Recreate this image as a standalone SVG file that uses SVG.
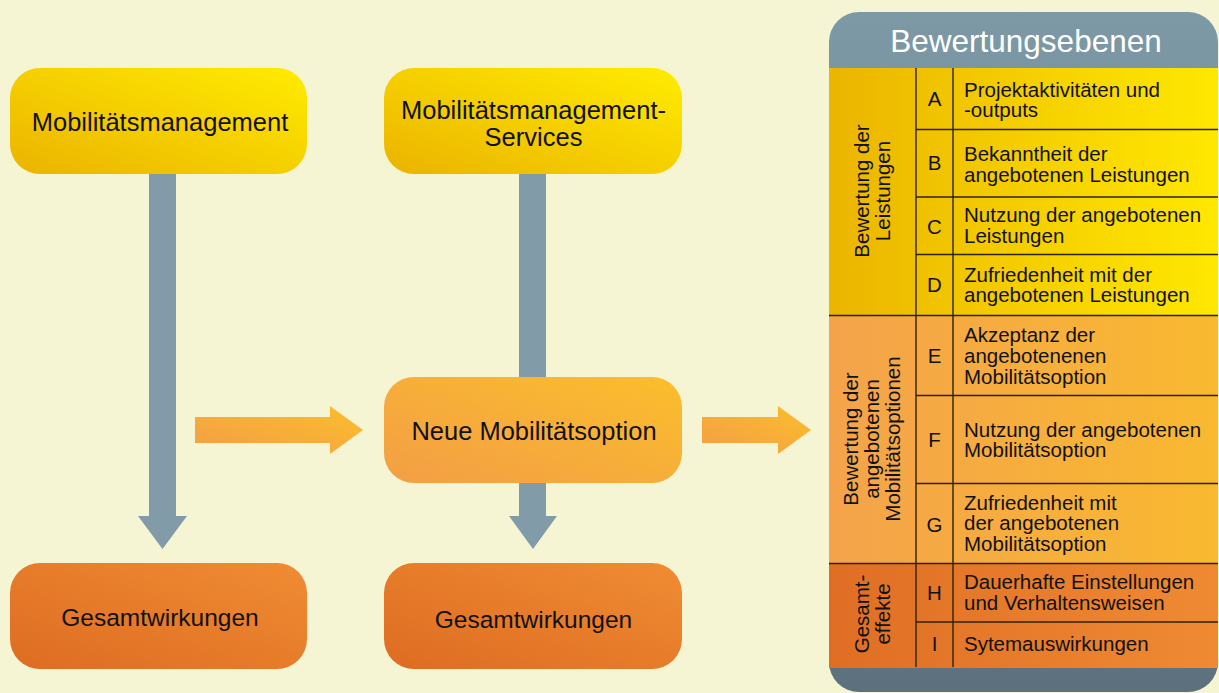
<svg xmlns="http://www.w3.org/2000/svg" width="1219" height="693" viewBox="0 0 1219 693">
<defs>
<linearGradient id="gYellow" x1="0" y1="1" x2="1" y2="0">
<stop offset="0" stop-color="#EBB300"/>
<stop offset="1" stop-color="#FFEC00"/>
</linearGradient>
<linearGradient id="gLightOrange" x1="0" y1="1" x2="1" y2="0">
<stop offset="0" stop-color="#F39E46"/>
<stop offset="1" stop-color="#FBBE2C"/>
</linearGradient>
<linearGradient id="gDarkOrange" x1="0" y1="1" x2="1" y2="0">
<stop offset="0" stop-color="#DD6C22"/>
<stop offset="1" stop-color="#F08C33"/>
</linearGradient>
<linearGradient id="gArrowOrange" x1="0" y1="1" x2="1" y2="0">
<stop offset="0" stop-color="#F39E46"/>
<stop offset="1" stop-color="#FBBE2C"/>
</linearGradient>
<linearGradient id="gGray" x1="0" y1="0" x2="0" y2="1">
<stop offset="0" stop-color="#7E99A6"/>
<stop offset="1" stop-color="#5C717D"/>
</linearGradient>
<linearGradient id="gTYellow" x1="0" y1="0" x2="1" y2="0">
<stop offset="0" stop-color="#EBB500"/>
<stop offset="1" stop-color="#FFE800"/>
</linearGradient>
<linearGradient id="gTOrange" x1="0" y1="0" x2="1" y2="0">
<stop offset="0" stop-color="#F4A34B"/>
<stop offset="1" stop-color="#F9B930"/>
</linearGradient>
<linearGradient id="gTDark" x1="0" y1="0" x2="1" y2="0">
<stop offset="0" stop-color="#DF6E24"/>
<stop offset="1" stop-color="#EF8A33"/>
</linearGradient>
</defs>
<style>
.node-text{font-family:"Liberation Sans",Arial,sans-serif;font-size:25.5px;fill:#111;text-anchor:middle}
.node-text-s{font-family:"Liberation Sans",Arial,sans-serif;font-size:24.5px;fill:#111;text-anchor:middle}
.tbl{font-family:"Liberation Sans",Arial,sans-serif;font-size:20.5px;fill:#111}
.ltr{text-anchor:middle}
.vlab{font-family:"Liberation Sans",Arial,sans-serif;font-size:20.5px;fill:#111;text-anchor:middle}
.grid{stroke:#2E2206;stroke-width:1.4;fill:none}
.gray-arrow{fill:#819CA8}
.orange-arrow{fill:url(#gArrowOrange)}
</style>
<rect x="0" y="0" width="1219" height="693" fill="#F5F5D3"/>

<g id="connectors">
<polygon class="gray-arrow" points="149,170 176,170 176,516 187,516 162.5,549 138,516 149,516"/>
<polygon class="gray-arrow" points="519,170 546,170 546,516 557,516 533,549 509,516 519,516"/>
<polygon class="orange-arrow" points="195,417 330,417 330,406 363,430 330,454 330,443 195,443"/>
<polygon class="orange-arrow" points="702,417 778,417 778,406 811,430 778,454 778,443 702,443"/>
</g>

<g id="node-mm">
<rect x="10" y="68" width="297" height="106" rx="30" fill="url(#gYellow)"/>
<text class="node-text" x="160" y="131">Mobilitätsmanagement</text>
</g>
<g id="node-mms">
<rect x="384" y="68" width="298" height="106" rx="30" fill="url(#gYellow)"/>
<text class="node-text" x="533.5" y="119">Mobilitätsmanagement-</text>
<text class="node-text" x="533.5" y="146">Services</text>
</g>
<g id="node-neue">
<rect x="384" y="377" width="298" height="106" rx="30" fill="url(#gLightOrange)"/>
<text class="node-text" x="534" y="440">Neue Mobilitätsoption</text>
</g>
<g id="node-gesamt1">
<rect x="10" y="563" width="297" height="106" rx="30" fill="url(#gDarkOrange)"/>
<text class="node-text-s" x="160" y="626">Gesamtwirkungen</text>
</g>
<g id="node-gesamt2">
<rect x="384" y="563" width="298" height="106" rx="30" fill="url(#gDarkOrange)"/>
<text class="node-text-s" x="533.5" y="628">Gesamtwirkungen</text>
</g>

<g id="table-bewertungsebenen">
<rect x="829" y="12" width="389" height="680" rx="30" fill="url(#gGray)"/>
<text x="1026" y="52" font-family="'Liberation Sans',Arial,sans-serif" font-size="31.5" fill="#FFFFFF" text-anchor="middle">Bewertungsebenen</text>
<rect x="829" y="68" width="389" height="247" fill="url(#gTYellow)"/>
<rect x="829" y="315" width="389" height="248" fill="url(#gTOrange)"/>
<rect x="829" y="563" width="389" height="105" fill="url(#gTDark)"/>
<path class="grid" d="M916,68V667M953,68V667M916,129.5H1218M916,197H1218M916,254.5H1218M829,315.5H1218M916,395.5H1218M916,483.5H1218M829,563.5H1218M916,622H1218"/>

<text class="vlab" transform="translate(869,191) rotate(-90)"><tspan x="0" dy="0">Bewertung der</tspan><tspan x="0" dy="21">Leistungen</tspan></text>
<text class="vlab" transform="translate(858,439) rotate(-90)"><tspan x="0" dy="0">Bewertung der</tspan><tspan x="0" dy="21">angebotenen</tspan><tspan x="0" dy="21">Mobilitätsoptionen</tspan></text>
<text class="vlab" transform="translate(869,614) rotate(-90)"><tspan x="0" dy="0">Gesamt-</tspan><tspan x="0" dy="21">effekte</tspan></text>

<g class="tbl">
<text class="ltr" x="934.5" y="106">A</text>
<text class="ltr" x="934.5" y="170">B</text>
<text class="ltr" x="934.5" y="234">C</text>
<text class="ltr" x="934.5" y="292">D</text>
<text class="ltr" x="934.5" y="363">E</text>
<text class="ltr" x="934.5" y="447">F</text>
<text class="ltr" x="934.5" y="532">G</text>
<text class="ltr" x="934.5" y="600">H</text>
<text class="ltr" x="934.5" y="651">I</text>

<text x="964" y="96.5">Projektaktivitäten und</text>
<text x="964" y="117">-outputs</text>
<text x="964" y="161">Bekanntheit der</text>
<text x="964" y="181.5">angebotenen Leistungen</text>
<text x="964" y="221.5">Nutzung der angebotenen</text>
<text x="964" y="242.5">Leistungen</text>
<text x="964" y="281.5">Zufriedenheit mit der</text>
<text x="964" y="302">angebotenen Leistungen</text>
<text x="964" y="342">Akzeptanz der</text>
<text x="964" y="363">angebotenenen</text>
<text x="964" y="384">Mobilitätsoption</text>
<text x="964" y="436.5">Nutzung der angebotenen</text>
<text x="964" y="457">Mobilitätsoption</text>
<text x="964" y="509.5">Zufriedenheit mit</text>
<text x="964" y="530">der angebotenen</text>
<text x="964" y="551">Mobilitätsoption</text>
<text x="964" y="588.5">Dauerhafte Einstellungen</text>
<text x="964" y="609.5">und Verhaltensweisen</text>
<text x="964" y="651">Sytemauswirkungen</text>
</g>
</g>
</svg>
